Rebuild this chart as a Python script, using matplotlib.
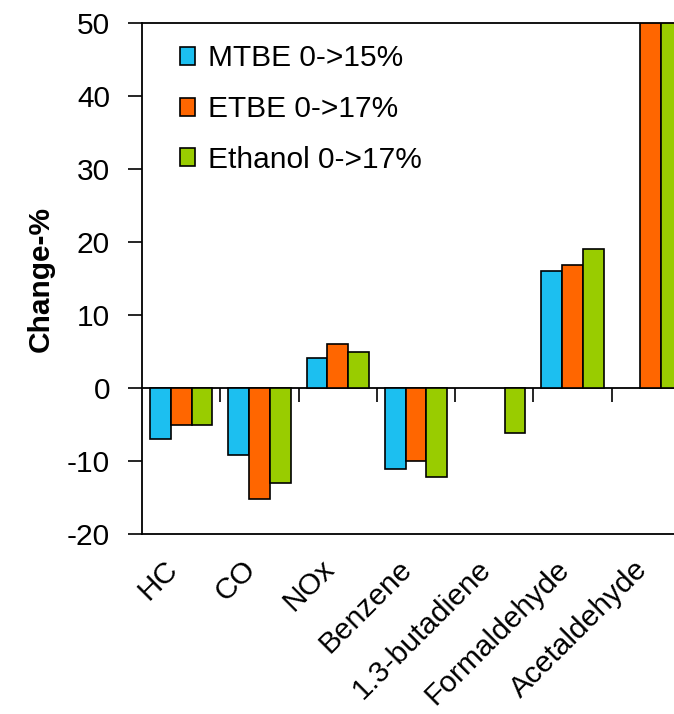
import matplotlib

matplotlib.use("Agg")
import matplotlib.pyplot as plt
import matplotlib.transforms as mtransforms
import numpy as np

plt.rcParams["font.family"] = ["Liberation Sans", "DejaVu Sans"]
plt.rcParams["axes.unicode_minus"] = False

categories = ["HC", "CO", "NOx", "Benzene", "1.3-butadiene", "Formaldehyde", "Acetaldehyde"]
mtbe = [-7.0, -9.2, 4.1, -11.1, np.nan, 16.0, np.nan]
etbe = [-5.0, -15.2, 6.0, -10.0, np.nan, 16.9, 60.0]     # acetaldehyde runs off the top
ethanol = [-5.0, -13.0, 4.9, -12.2, -6.1, 19.0, 60.0]
series = [("MTBE 0->15%", mtbe, "#1cbff0"),
          ("ETBE 0->17%", etbe, "#ff6600"),
          ("Ethanol 0->17%", ethanol, "#99cc00")]

Y_MIN, Y_MAX = -20, 50
FS = 21.5

fig = plt.figure(figsize=(6.74, 7.14), dpi=100)
ax = fig.add_axes([142 / 674, 180 / 714, 548 / 674, 511 / 714])

x = np.arange(len(categories))
w = 0.265
for i, (label, vals, color) in enumerate(series):
    ax.bar(x + (i - 1) * w, vals, width=w, color=color, edgecolor="black",
           linewidth=1.2, label=label, zorder=2)

ax.set_xlim(-0.5, len(categories) - 0.5)
ax.set_ylim(Y_MIN, Y_MAX)
ax.set_yticks(np.arange(Y_MIN, Y_MAX + 1, 10))
ax.tick_params(axis="y", direction="out", length=10, width=1.2, pad=13, labelsize=FS)
ax.set_ylabel("Change-%", fontsize=FS, fontweight="bold", labelpad=9)

for side in ["left", "top", "bottom"]:
    ax.spines[side].set_linewidth(1.3)
ax.spines["right"].set_visible(False)

# category labels along the bottom
ax.set_xticks(x)
ax.set_xticklabels(categories, fontsize=FS,
                   rotation=45, ha="right", va="center", rotation_mode="anchor")
ax.tick_params(axis="x", length=0, pad=22)
shift = mtransforms.ScaledTranslation(-8 / 100, 0, fig.dpi_scale_trans)
for lbl in ax.get_xticklabels():
    lbl.set_transform(lbl.get_transform() + shift)

# zero line with ticks between categories
zero = ax.secondary_xaxis((0 - Y_MIN) / (Y_MAX - Y_MIN))
zero.set_xticks(np.arange(0.5, len(categories) - 0.5, 1))
zero.set_xticklabels([])
zero.tick_params(direction="out", length=10, width=1.2)
zero.spines["bottom"].set_linewidth(1.3)

ax.legend(loc="upper left", bbox_to_anchor=(0.069, 0.958), frameon=False,
          fontsize=FS, handlelength=0.5, handleheight=0.56, handletextpad=0.43,
          labelspacing=0.76, borderpad=0, borderaxespad=0)

fig.savefig("out.png", dpi=100)
